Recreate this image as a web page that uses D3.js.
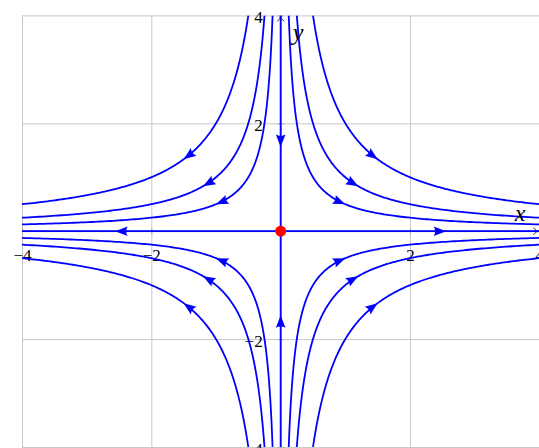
<!DOCTYPE html>
<html>
<head>
<meta charset="utf-8">
<script src="https://cdn.jsdelivr.net/npm/d3@7"></script>
<style>
  html, body { margin: 0; padding: 0; background: #fff; }
  svg { display: block; }
  .lbl { font-family: "Liberation Serif", "Times New Roman", serif; }
</style>
</head>
<body>
<svg id="chart" width="539" height="448"></svg>
<script>
// Saddle point: x' = x, y' = -y. Trajectories are the hyperbolas x*y = const.
const xDomain = [-4, 4];
const yDomain = [-4, 4];
const tickValues = [-4, -2, 2, 4];
const gridValues = [-4, -2, 0, 2, 4];
const levels = [0.5, 1, 2];                        // |x*y| of each drawn trajectory
const arrowTipAbsX = [1.0, 1.2, 1.5];              // |x| of the flow arrow tip on each level
const quadrantSigns = [[-1, 1], [1, 1], [-1, -1], [1, -1]];
// straight-line solutions along the axes (listed in flow direction) and their arrow tips
const axisFlows = [
  { from: [0, 0], to: [4, 0], tip: [2.56, 0] },
  { from: [0, 0], to: [-4, 0], tip: [-2.56, 0] },
  { from: [0, 4], to: [0, 0], tip: [0, 1.56] },
  { from: [0, -4], to: [0, 0], tip: [0, -1.56] }
];
const equilibrium = [0, 0];

const field = ([px, py]) => [px, -py];

const svg = d3.select("#chart");
const plotLeft = 22, plotRight = 539.3, plotTop = 15.4, plotBottom = 447;
const x = d3.scaleLinear().domain(xDomain).range([plotLeft, plotRight]);
const y = d3.scaleLinear().domain(yDomain).range([plotBottom, plotTop]);

svg.append("defs").append("clipPath").attr("id", "plotClip")
  .append("rect").attr("x", plotLeft).attr("y", plotTop)
  .attr("width", plotRight - plotLeft).attr("height", plotBottom - plotTop);

// grid
const gridColor = "#c8c8c8";
svg.append("g")
  .attr("transform", `translate(0,${plotBottom})`)
  .call(d3.axisBottom(x).tickValues(gridValues).tickSize(-(plotBottom - plotTop)).tickFormat(""))
  .call(g => g.select(".domain").remove())
  .call(g => g.selectAll("line").attr("stroke", gridColor).attr("stroke-width", 1));
svg.append("g")
  .attr("transform", `translate(${plotLeft},0)`)
  .call(d3.axisLeft(y).tickValues(gridValues).tickSize(-(plotRight - plotLeft)).tickFormat(""))
  .call(g => g.select(".domain").remove())
  .call(g => g.selectAll("line").attr("stroke", gridColor).attr("stroke-width", 1));

// tick labels and small tick marks on the centred axes
const fmt = d => d3.format("d")(d);
const xAxis = svg.append("g")
  .attr("transform", `translate(0,${y(0)})`)
  .call(d3.axisBottom(x).tickValues(tickValues).tickSizeInner(3).tickSizeOuter(0).tickPadding(15).tickFormat(fmt));
xAxis.select(".domain").remove();
xAxis.selectAll("line").attr("stroke", "#aaa").attr("y1", -3);
xAxis.selectAll("text").attr("class", "lbl").attr("font-size", 17).attr("fill", "#000");

const yAxis = svg.append("g")
  .attr("transform", `translate(${x(0)},0)`)
  .call(d3.axisLeft(y).tickValues(tickValues).tickSizeInner(3).tickSizeOuter(0).tickPadding(15).tickFormat(fmt));
yAxis.select(".domain").remove();
yAxis.selectAll("line").attr("stroke", "#aaa").attr("x1", 3);
yAxis.selectAll("text").attr("class", "lbl").attr("font-size", 17).attr("fill", "#000")
  .attr("dy", "0.42em");

// black axis lines with arrow tips
const axisG = svg.append("g").attr("stroke", "#000").attr("stroke-width", 0.8).attr("fill", "none");
axisG.append("line").attr("x1", x(-4)).attr("x2", x(4) - 0.5).attr("y1", y(0)).attr("y2", y(0));
axisG.append("line").attr("x1", x(0)).attr("x2", x(0)).attr("y1", y(-4)).attr("y2", y(4) + 0.5);
axisG.append("path").attr("d", `M${x(4) - 6},${y(0) - 3.5} Q${x(4) - 3},${y(0)} ${x(4) - 0.5},${y(0)} Q${x(4) - 3},${y(0)} ${x(4) - 6},${y(0) + 3.5}`);
axisG.append("path").attr("d", `M${x(0) - 3.5},${y(4) + 6} Q${x(0)},${y(4) + 3} ${x(0)},${y(4) + 0.5} Q${x(0)},${y(4) + 3} ${x(0) + 3.5},${y(4) + 6}`);

// trajectories and arrow tips
const line = d3.line().x(d => x(d[0])).y(d => y(d[1]));
const trajectories = [];
const arrowTips = [];
quadrantSigns.forEach(([sx, sy]) => {
  levels.forEach((c, i) => {
    const u0 = Math.log(c / 4), u1 = Math.log(4);
    const pts = d3.range(0, 201).map(k => {
      const u = u0 + (u1 - u0) * k / 200;
      const ax = Math.exp(u);
      return [sx * ax, sy * c / ax];
    });
    trajectories.push(pts);
    arrowTips.push([sx * arrowTipAbsX[i], sy * c / arrowTipAbsX[i]]);
  });
});
axisFlows.forEach(f => { trajectories.push([f.from, f.to]); arrowTips.push(f.tip); });

const blue = "#0000ff";
const curveG = svg.append("g").attr("clip-path", "url(#plotClip)");
curveG.selectAll("path.traj").data(trajectories).join("path")
  .attr("class", "traj")
  .attr("d", line)
  .attr("fill", "none")
  .attr("stroke", blue)
  .attr("stroke-width", 1.8);

// flow-direction arrowheads, oriented along the vector field
curveG.selectAll("path.arrow").data(arrowTips).join("path")
  .attr("class", "arrow")
  .attr("d", "M0,0 L-12.5,-4.8 Q-9.6,0 -12.5,4.8 Z")
  .attr("fill", blue)
  .attr("transform", d => {
    const v = field(d), e = 1e-3;
    const back = [d[0] - e * v[0], d[1] - e * v[1]];
    const ang = Math.atan2(y(d[1]) - y(back[1]), x(d[0]) - x(back[0])) * 180 / Math.PI;
    return `translate(${x(d[0])},${y(d[1])}) rotate(${ang})`;
  });

// equilibrium point
svg.append("circle")
  .attr("cx", x(equilibrium[0])).attr("cy", y(equilibrium[1]))
  .attr("r", 5.5).attr("fill", "#ff0000");

// axis names
svg.append("text").attr("class", "lbl").attr("x", 520).attr("y", 221)
  .attr("text-anchor", "middle").attr("font-size", 24).attr("font-style", "italic").text("x");
svg.append("text").attr("class", "lbl").attr("x", 298).attr("y", 40)
  .attr("text-anchor", "middle").attr("font-size", 24).attr("font-style", "italic").text("y");
</script>
</body>
</html>
